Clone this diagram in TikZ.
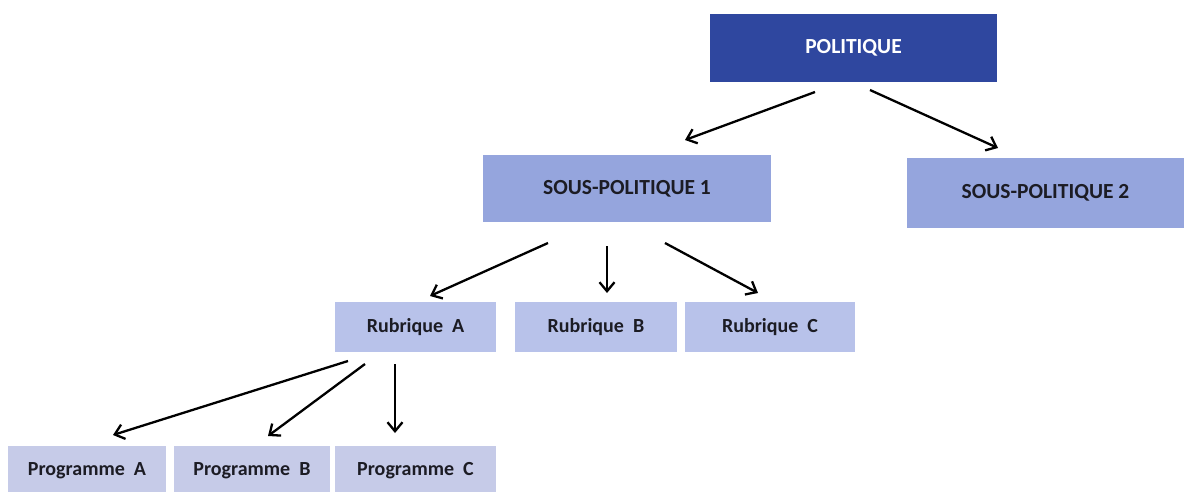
\documentclass[tikz,border=0pt]{standalone}
\usepackage{fontspec}
\setmainfont{Carlito}
\usetikzlibrary{arrows.meta}
\definecolor{dark}{HTML}{2F479F}
\definecolor{mid}{HTML}{95A5DD}
\definecolor{light}{HTML}{B8C2EA}
\definecolor{pale}{HTML}{C6CBE8}
\definecolor{txt}{HTML}{1C1C24}
\begin{document}
\begin{tikzpicture}[x=1pt,y=-1pt,
  box/.style={rectangle,inner sep=0pt,font=\bfseries\fontsize{20}{24}\selectfont,text=txt},
  big/.style={font=\bfseries\fontsize{21.5}{25}\selectfont},
  arr/.style={line width=2.3pt,-{Straight Barb[length=9pt,width=15pt,line width=2.3pt]}}]
\useasboundingbox (0,0) rectangle (1184,491);
\node[box,big,fill=dark,text=white,minimum width=287pt,minimum height=68pt] (pol) at (853.5,48) {POLITIQUE};
\node[box,big,fill=mid,minimum width=288pt,minimum height=67pt] (sp1) at (627,188.5) {SOUS-POLITIQUE 1};
\node[box,big,fill=mid,minimum width=277pt,minimum height=70pt] (sp2) at (1045.5,193) {SOUS-POLITIQUE 2};
\node[box,fill=light,minimum width=161pt,minimum height=50pt] (ra) at (415.5,327) {Rubrique\ \ A};
\node[box,fill=light,minimum width=162pt,minimum height=50pt] (rb) at (596,327) {Rubrique\ \ B};
\node[box,fill=light,minimum width=170pt,minimum height=50pt] (rc) at (770,327) {Rubrique\ \ C};
\node[box,fill=pale,minimum width=158pt,minimum height=50pt] (pa) at (87,471) {Programme\ \ A};
\node[box,fill=pale,minimum width=156pt,minimum height=50pt] (pb) at (252,471) {Programme\ \ B};
\node[box,fill=pale,minimum width=161pt,minimum height=50pt] (pc) at (415.5,471) {Programme\ \ C};
\coordinate (a1s) at (815,92); \coordinate (a1e) at (685,140);
\coordinate (a2s) at (870,90); \coordinate (a2e) at (998,148);
\coordinate (b1s) at (548,243); \coordinate (b1e) at (430,296);
\coordinate (b2s) at (607,246); \coordinate (b2e) at (607,293);
\coordinate (b3s) at (665,243); \coordinate (b3e) at (758,293);
\coordinate (c1s) at (348,361); \coordinate (c1e) at (113,435);
\coordinate (c2s) at (365,364); \coordinate (c2e) at (268,436);
\coordinate (c3s) at (395,364); \coordinate (c3e) at (395,433);
\draw[arr] (a1s) -- (a1e);
\draw[arr] (a2s) -- (a2e);
\draw[arr] (b1s) -- (b1e);
\draw[arr] (b2s) -- (b2e);
\draw[arr] (b3s) -- (b3e);
\draw[arr] (c1s) -- (c1e);
\draw[arr] (c2s) -- (c2e);
\draw[arr] (c3s) -- (c3e);
\end{tikzpicture}
\end{document}
